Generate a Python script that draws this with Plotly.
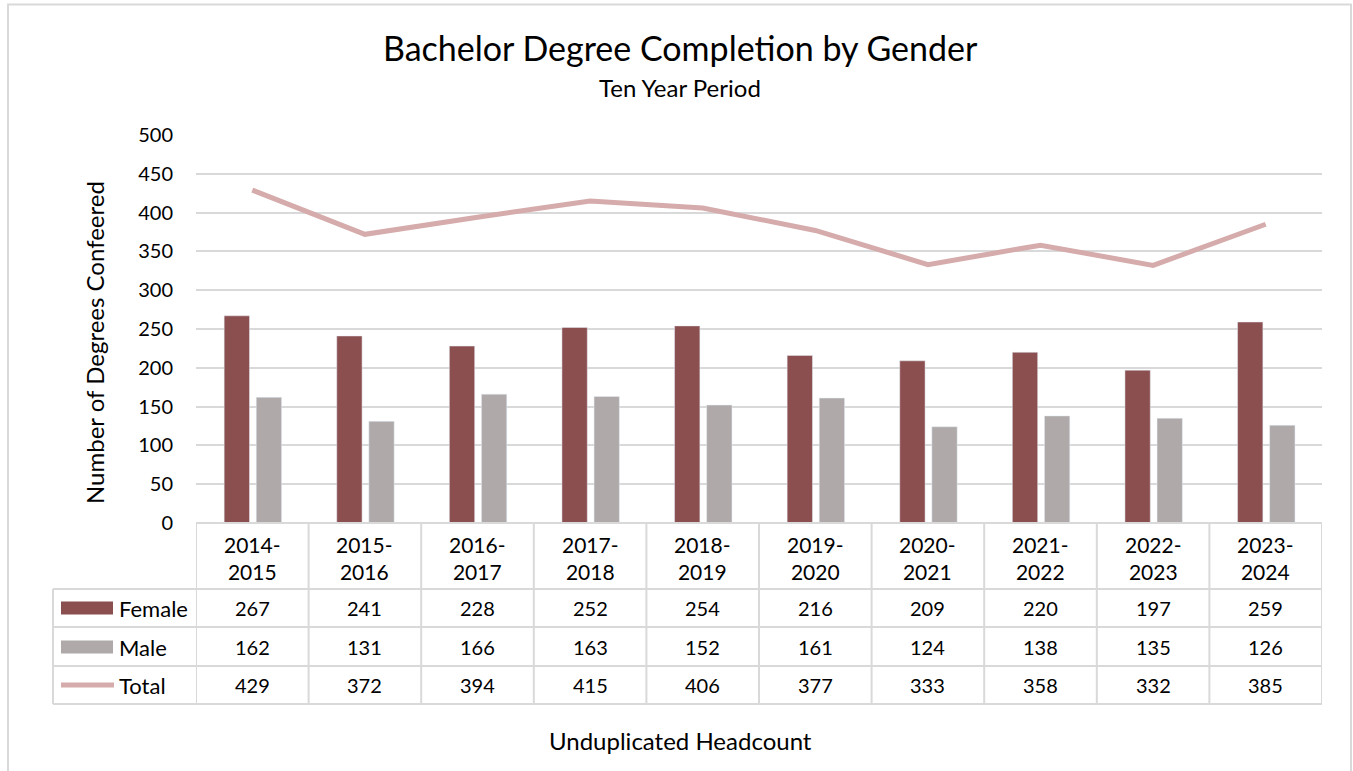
import plotly.graph_objects as go

# Academic years and degree counts
years = ["2014-2015", "2015-2016", "2016-2017", "2017-2018", "2018-2019",
         "2019-2020", "2020-2021", "2021-2022", "2022-2023", "2023-2024"]
female = [267, 241, 228, 252, 254, 216, 209, 220, 197, 259]
male = [162, 131, 166, 163, 152, 161, 124, 138, 135, 126]
total = [429, 372, 394, 415, 406, 377, 333, 358, 332, 385]
y_ticks = [0, 50, 100, 150, 200, 250, 300, 350, 400, 450, 500]

FEMALE_C = "#8C4F50"
MALE_C = "#AFAAA9"
TOTAL_C = "#D5ABAB"
GRID_C = "#D9D9D9"
FONT = "Lato"

W, H = 1353, 771
PL, PR, PT, PB = 196, 1322, 135, 523  # plot area in pixels


def px(x):
    return (x - PL) / (PR - PL)


def py(y):
    return (PB - y) / (PB - PT)


def label(x, y, text, size, xref="paper", xanchor="center", **kw):
    return dict(x=x, y=y, xref=xref, yref="paper", text=text, showarrow=False,
                xanchor=xanchor, yanchor="middle",
                font=dict(size=size, color="#000000", family=FONT), **kw)


idx = list(range(len(years)))

fig = go.Figure()
fig.add_trace(go.Bar(x=idx, y=female, name="Female", marker_color=FEMALE_C,
                     width=0.225, offset=-0.25))
fig.add_trace(go.Bar(x=idx, y=male, name="Male", marker_color=MALE_C,
                     width=0.225, offset=0.035))
fig.add_trace(go.Scatter(x=idx, y=total, name="Total", mode="lines",
                         line=dict(color=TOTAL_C, width=5)))

shapes = []
annotations = []
line = dict(color=GRID_C, width=2)

# outer chart border
shapes.append(dict(type="rect", xref="paper", yref="paper",
                   x0=px(8), x1=px(1351), y0=py(790), y1=py(4.5),
                   line=dict(color=GRID_C, width=2), layer="below"))

# data table grid
row_y = [589, 627, 666, 704]
shapes.append(dict(type="line", xref="paper", yref="paper",
                   x0=0, x1=1, y0=py(523), y1=py(523), line=line))
for y in row_y:
    shapes.append(dict(type="line", xref="paper", yref="paper",
                       x0=px(53), x1=1, y0=py(y), y1=py(y), line=line))
for k in range(len(years) + 1):
    shapes.append(dict(type="line", xref="x", yref="paper",
                       x0=k - 0.5, x1=k - 0.5, y0=py(704), y1=py(523), line=line))
shapes.append(dict(type="line", xref="paper", yref="paper",
                   x0=px(53), x1=px(53), y0=py(704), y1=py(589), line=line))

# category headers
for i, yr in enumerate(years):
    a, b = yr.split("-")
    annotations.append(label(i, py(558), f"{a}-<br>{b}", 21, xref="x"))

# table rows with legend keys
row_centers = [608, 647, 685]
series = [("Female", female, FEMALE_C), ("Male", male, MALE_C), ("Total", total, TOTAL_C)]
for (name, vals, col), yc in zip(series, row_centers):
    if name == "Total":
        shapes.append(dict(type="line", xref="paper", yref="paper",
                           x0=px(61), x1=px(114), y0=py(yc), y1=py(yc),
                           line=dict(color=col, width=5)))
    else:
        shapes.append(dict(type="rect", xref="paper", yref="paper",
                           x0=px(61), x1=px(113), y0=py(yc + 6.5), y1=py(yc - 6.5),
                           fillcolor=col, line=dict(width=0)))
    annotations.append(label(px(117), py(yc), name, 22, xanchor="left"))
    for i, v in enumerate(vals):
        annotations.append(label(i, py(yc), str(v), 20, xref="x"))

# titles
annotations.append(label(px(680), py(48), "Bachelor Degree Completion by Gender", 34))
annotations.append(label(px(680), py(87), "Ten Year Period", 24))
annotations.append(label(px(94), py(343), "Number of Degrees Confeered", 24, textangle=-90))
annotations.append(label(px(680), py(740), "Unduplicated Headcount", 24))

fig.update_layout(
    width=W, height=H,
    margin=dict(l=PL, r=W - PR, t=PT, b=H - PB),
    paper_bgcolor="white", plot_bgcolor="white",
    showlegend=False, barmode="overlay",
    font=dict(family=FONT, color="#000000"),
    xaxis=dict(range=[-0.5, len(years) - 0.5], showticklabels=False,
               showgrid=False, zeroline=False, showline=False, fixedrange=True),
    yaxis=dict(range=[0, 500], tickvals=y_ticks, showgrid=True,
               gridcolor=GRID_C, gridwidth=2, zeroline=False, showline=False,
               ticks="", ticklabelstandoff=22,
               tickfont=dict(size=20, color="#000000", family=FONT)),
    shapes=shapes, annotations=annotations,
)

fig.write_html("out.html")
